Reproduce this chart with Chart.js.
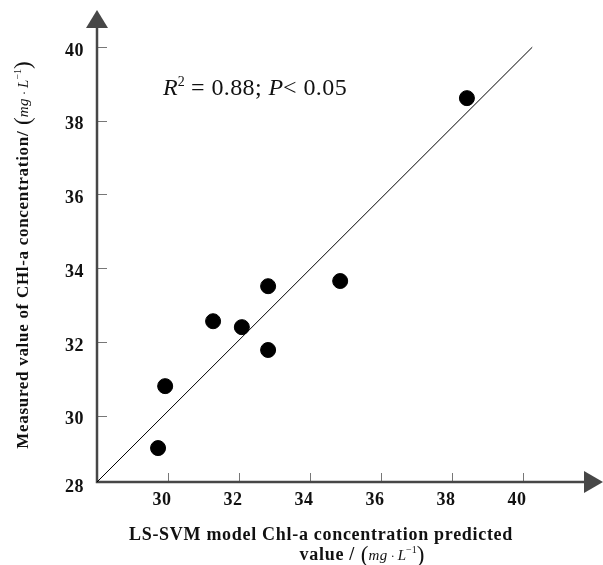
<!DOCTYPE html>
<html>
<head>
<meta charset="utf-8">
<script src="https://cdn.jsdelivr.net/npm/chart.js@4.4.0/dist/chart.umd.min.js"></script>
<style>
html, body { margin: 0; padding: 0; background: #fff; }
</style>
</head>
<body>
<canvas id="myChart" width="603" height="565"></canvas>
<script>
// LS-SVM predicted (x) vs measured (y) Chl-a, mg/L
var predicted = [29.72, 29.92, 31.27, 32.08, 32.82, 32.82, 34.85, 38.42];
var measured = [29.12, 30.80, 32.56, 32.40, 33.51, 31.78, 33.65, 38.61];

// 1:1 reference line
var lineX = [28, 40.26];
var lineY = [28.2, 39.99];

var xTicks = [30, 32, 34, 36, 38, 40];
var yTicks = [28, 30, 32, 34, 36, 38, 40];
var xRange = [28, 42];
var yRange = [28.2, 41];

var serif = "'Liberation Serif', 'DejaVu Serif', serif";

var points = [];
for (var i = 0; i < predicted.length; i++) {
    points.push({ x: predicted[i], y: measured[i] });
}
var linePts = [];
for (var j = 0; j < lineX.length; j++) {
    linePts.push({ x: lineX[j], y: lineY[j] });
}

// draws a run of text pieces with different fonts
function setSeg(ctx, s) {
    ctx.font = s.f;
    ctx.letterSpacing = (s.ls || 0) + 'px';
}
function richWidth(ctx, segs) {
    var w = 0;
    segs.forEach(function (s) {
        setSeg(ctx, s);
        w += ctx.measureText(s.t).width;
    });
    return w;
}
function drawRich(ctx, segs, x, y, align) {
    var w = richWidth(ctx, segs);
    var cx = x;
    if (align == 'center') cx = x - w / 2;
    segs.forEach(function (s) {
        setSeg(ctx, s);
        ctx.fillText(s.t, cx, y + (s.dy || 0));
        cx += ctx.measureText(s.t).width;
    });
    ctx.letterSpacing = '0px';
}

function unitSegs() {
    return [
        { t: " (", f: "23px " + serif, dy: 2 },
        { t: "mg", f: "italic 15px " + serif, ls: 0.5 },
        { t: " \u00b7 ", f: "12px " + serif },
        { t: "L", f: "italic 15px " + serif },
        { t: "\u22121", f: "10px " + serif, dy: -7 },
        { t: ")", f: "23px " + serif, dy: 2 }
    ];
}

var axesPlugin = {
    id: 'axesPlugin',
    beforeDatasetsDraw: function (chart) {
        var ctx = chart.ctx;
        var xs = chart.scales.x, ys = chart.scales.y;
        var a = chart.chartArea;
        ctx.save();
        // tick marks (inside)
        ctx.strokeStyle = '#777';
        ctx.lineWidth = 1;
        xTicks.forEach(function (v) {
            var px = Math.round(xs.getPixelForValue(v)) + 0.5;
            ctx.beginPath();
            ctx.moveTo(px, a.bottom);
            ctx.lineTo(px, a.bottom - 9);
            ctx.stroke();
        });
        yTicks.forEach(function (v) {
            if (v == 28) return;
            var py = Math.round(ys.getPixelForValue(v)) + 0.5;
            ctx.beginPath();
            ctx.moveTo(a.left, py);
            ctx.lineTo(a.left + 10, py);
            ctx.stroke();
        });
        // axis lines
        ctx.strokeStyle = '#474747';
        ctx.fillStyle = '#474747';
        ctx.lineWidth = 2.5;
        ctx.beginPath();
        ctx.moveTo(a.left, a.top + 16);
        ctx.lineTo(a.left, a.bottom);
        ctx.lineTo(a.right - 10, a.bottom);
        ctx.stroke();
        // arrows
        ctx.beginPath();
        ctx.moveTo(a.left, a.top);
        ctx.lineTo(a.left - 11, a.top + 18);
        ctx.lineTo(a.left + 11, a.top + 18);
        ctx.closePath();
        ctx.fill();
        ctx.beginPath();
        ctx.moveTo(a.right + 9, a.bottom);
        ctx.lineTo(a.right - 10, a.bottom - 11);
        ctx.lineTo(a.right - 10, a.bottom + 11);
        ctx.closePath();
        ctx.fill();
        ctx.restore();
    },
    afterDraw: function (chart) {
        var ctx = chart.ctx;
        var xs = chart.scales.x, ys = chart.scales.y;
        var a = chart.chartArea;
        ctx.save();
        ctx.fillStyle = '#111';
        // tick labels
        ctx.font = "bold 18px " + serif;
        ctx.letterSpacing = '0.5px';
        ctx.textAlign = 'center';
        ctx.textBaseline = 'middle';
        xTicks.forEach(function (v) {
            ctx.fillText(String(v), xs.getPixelForValue(v) - 6, a.bottom + 18);
        });
        ctx.textAlign = 'right';
        yTicks.forEach(function (v) {
            var off = v == 28 ? -2 : 4;
            ctx.fillText(String(v), 84, ys.getPixelForValue(v) + off);
        });
        ctx.letterSpacing = '0px';

        ctx.textAlign = 'left';
        ctx.textBaseline = 'alphabetic';
        // x title, two lines
        var bold = "bold 18px " + serif;
        drawRich(ctx, [{ t: "LS-SVM model Chl-a concentration predicted", f: bold, ls: 0.7 }], 321, 540, 'center');
        drawRich(ctx, [{ t: "value /", f: bold, ls: 0.7 }].concat(unitSegs()), 362, 560, 'center');

        // y title, rotated
        ctx.save();
        ctx.translate(28, 255);
        ctx.rotate(-Math.PI / 2);
        drawRich(ctx, [{ t: "Measured value of CHl-a concentration/", f: "bold 17px " + serif, ls: 0.7 }].concat(unitSegs()), 0, 0, 'center');
        ctx.restore();

        // fit statistics
        drawRich(ctx, [
            { t: "R", f: "italic 24px " + serif },
            { t: "2", f: "14px " + serif, dy: -9 },
            { t: " = 0.88; ", f: "24px " + serif, ls: 0.4 },
            { t: "P", f: "italic 24px " + serif },
            { t: "< 0.05", f: "24px " + serif, ls: 0.4 }
        ], 163, 95, 'left');
        ctx.restore();
    }
};

var data = {
    datasets: [{
        type: 'scatter',
        label: 'samples',
        data: points,
        backgroundColor: '#000',
        borderColor: '#000',
        pointRadius: 7.5,
        pointHoverRadius: 7.5
    }, {
        type: 'line',
        label: '1:1',
        data: linePts,
        borderColor: '#000',
        borderWidth: 1,
        pointRadius: 0,
        fill: false
    }]
};

var config = {
    type: 'scatter',
    data: data,
    options: {
        responsive: false,
        animation: false,
        devicePixelRatio: 1,
        layout: { padding: { left: 97, right: 9, top: 10, bottom: 83 } },
        plugins: { legend: { display: false }, tooltip: { enabled: false } },
        scales: {
            x: { type: 'linear', min: xRange[0], max: xRange[1], display: false },
            y: { type: 'linear', min: yRange[0], max: yRange[1], display: false }
        }
    },
    plugins: [axesPlugin]
};

var myChart = new Chart(document.getElementById('myChart'), config);
</script>
</body>
</html>
